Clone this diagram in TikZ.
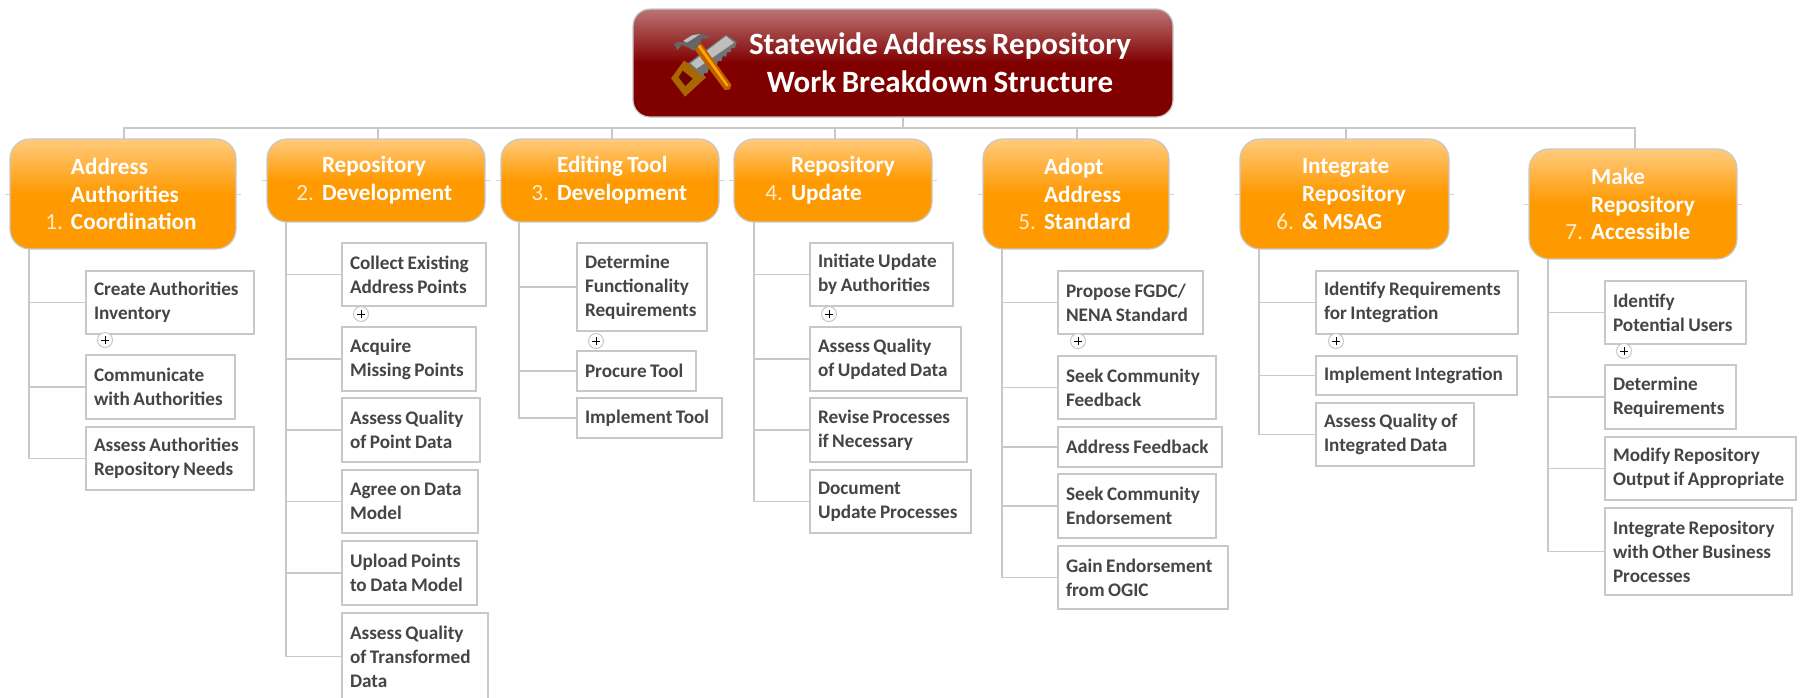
\documentclass[tikz,border=0pt]{standalone}
\usepackage{fontspec}
\setmainfont{Carlito}
\definecolor{linegrey}{HTML}{C8C8C8}
\definecolor{leaftext}{HTML}{454545}
\definecolor{orangetop}{HTML}{FFCB7E}
\definecolor{orangemain}{HTML}{FF9900}
\definecolor{roottop}{HTML}{BC7474}
\definecolor{rootmain}{HTML}{800000}
\definecolor{numcol}{HTML}{FFEBCD}
\newdimen\bodyind
\newcommand{\tightwords}{\setlength{\spaceskip}{0.18em}}
\newcommand{\bl}{\hspace*{\bodyind}}
\newcommand{\num}[1]{\llap{{\mdseries\color{numcol}#1}\hspace{4pt}}}
\newcommand{\leaf}[6]{\node[leafbox,anchor=north west,minimum width={(#4-#2)*0.5pt},text width={(#4-#2-16)*0.5pt},minimum height={(#5-#3)*0.5pt}] (#1) at (#2,-#3) {\tightwords #6};}
\newcommand{\topic}[7]{\pgfmathsetlength\bodyind{#6*0.5pt}\node[topicbox,anchor=north west,minimum width={(#4-#2)*0.5pt},text width={(#4-#2)*0.5pt},minimum height={(#5-#3)*0.5pt}] (#1) at (#2,-#3) {\tightwords #7};}
\tikzset{
  conn/.style={draw=linegrey,line width=0.85pt},
  stub/.style={draw=linegrey!80,line width=0.5pt},
  leafbox/.style={draw=linegrey,line width=0.75pt,fill=white,rectangle,align=left,inner xsep=4pt,inner ysep=0pt,outer sep=0pt,text=leaftext,font=\fontsize{9.6}{12}\selectfont\bfseries},
  topicbox/.style={draw=linegrey,line width=0.6pt,rounded corners=10pt,rectangle,top color=orangetop,bottom color=orangemain,middle color=orangemain,align=left,inner xsep=0pt,inner ysep=0pt,outer sep=0pt,text=white,font=\fontsize{11.6}{13.9}\selectfont\bfseries},
  rootbox/.style={draw=linegrey,line width=0.6pt,rounded corners=8.5pt,rectangle,top color=roottop,bottom color=rootmain,middle color=rootmain,align=center,inner sep=0pt,outer sep=0pt,text=white,font=\fontsize{15.5}{19}\selectfont\bfseries},
  plusc/.style={circle,draw=linegrey,fill=white,line width=0.5pt,minimum size=7.5pt,inner sep=0pt,path picture={\draw[black,line width=0.5pt] (path picture bounding box.center) +(-2pt,0) -- +(2pt,0) +(0,-2pt) -- +(0,2pt);}}
}
\begin{document}
\begin{tikzpicture}[x=0.5pt,y=0.5pt]
\useasboundingbox (0,0) rectangle (1802,-697);
\fill[white] (0,0) rectangle (1802,-697);
% root
\node[rootbox,anchor=north west,minimum width=270pt,text width=270pt,minimum height=54pt] (root) at (633,-9) {\tightwords\hspace*{37pt}Statewide Address Repository\\\hspace*{37pt}Work Breakdown Structure};
% icon
\begin{scope}[shift={(660,-20)},x=0.1667pt,y=-0.1667pt]
  \fill[orange!60!black!85!yellow] (72,122) -- (33,175) -- (75,230) -- (138,172) -- (106,142) -- cycle;
  \fill[rootmain!85!black] (68,152) -- (56,172) -- (76,198) -- (98,176) -- cycle;
  \fill[black!55] (198,44) -- (84,130) -- (128,170) -- (134,158) -- (142,160) -- (146,146) -- (156,148) -- (160,134) -- (170,136) -- (174,122) -- (184,124) -- (188,108) -- (198,110) -- (202,96) -- (212,96) -- (214,84) -- (224,84) -- (230,66) -- cycle;
  \fill[black!25] (198,48) -- (92,130) -- (110,146) -- (222,68) -- cycle;
  \fill[orange!75!black] (102,86) -- (124,70) -- (214,194) -- (210,208) -- (194,210) -- cycle;
  \fill[orange!70!yellow] (112,78) -- (120,74) -- (206,196) -- (200,200) -- cycle;
  \fill[black!60] (42,72) -- (52,66) -- (68,66) -- (92,46) -- (120,40) -- (152,52) -- (126,56) -- (118,74) -- (100,92) -- (84,82) -- (66,74) -- (52,90) -- cycle;
  \fill[black!25] (70,62) -- (96,46) -- (120,42) -- (100,56) -- (80,68) -- cycle;
\end{scope}
% main topics
\topic{n1}{10}{139}{236}{249}{61}{\bl Address\\\bl Authorities\\\bl\num{1.}Coordination}
\topic{n2}{267}{139}{485}{222}{55}{\bl Repository\\\bl\num{2.}Development}
\topic{n3}{501}{139}{719}{222}{56}{\bl Editing Tool\\\bl\num{3.}Development}
\topic{n4}{734}{139}{932}{222}{57}{\bl Repository\\\bl\num{4.}Update}
\topic{n5}{983}{139}{1169}{249}{61}{\bl Adopt\\\bl Address\\\bl\num{5.}Standard}
\topic{n6}{1240}{139}{1449}{249}{62}{\bl Integrate\\\bl Repository\\\bl\num{6.}\& MSAG}
\topic{n7}{1529}{149}{1737}{259}{62}{\bl Make\\\bl Repository\\\bl\num{7.}Accessible}
% branch 1
\leaf{c11}{86}{271}{254}{334}{Create Authorities\\Inventory}
\leaf{c12}{86}{355}{235}{419}{Communicate\\with Authorities}
\leaf{c13}{86}{427}{254}{490}{Assess Authorities\\Repository Needs}
% branch 2
\leaf{c21}{342}{243}{486}{306}{Collect Existing\\Address Points}
\leaf{c22}{342}{327}{476}{391}{Acquire\\Missing Points}
\leaf{c23}{342}{398}{480}{462}{Assess Quality\\of Point Data}
\leaf{c24}{342}{470}{478}{533}{Agree on Data\\Model}
\leaf{c25}{342}{541}{477}{605}{Upload Points\\to Data Model}
\leaf{c26}{342}{613}{488}{700}{Assess Quality\\of Transformed\\Data}
% branch 3
\leaf{c31}{577}{243}{707}{331}{Determine\\Functionality\\Requirements}
\leaf{c32}{577}{351}{696}{391}{Procure Tool}
\leaf{c33}{577}{398}{722}{438}{Implement Tool}
% branch 4
\leaf{c41}{810}{243}{953}{306}{Initiate Update\\by Authorities}
\leaf{c42}{810}{327}{961}{391}{Assess Quality\\\mbox{of Updated Data}}
\leaf{c43}{810}{398}{967}{462}{Revise Processes\\if Necessary}
\leaf{c44}{810}{470}{971}{533}{Document\\\mbox{Update Processes}}
% branch 5
\leaf{c51}{1058}{271}{1203}{334}{Propose FGDC/\\NENA Standard}
\leaf{c52}{1058}{356}{1216}{419}{Seek Community\\Feedback}
\leaf{c53}{1058}{427}{1222}{467}{Address Feedback}
\leaf{c54}{1058}{474}{1216}{538}{Seek Community\\Endorsement}
\leaf{c55}{1058}{546}{1228}{609}{Gain Endorsement\\from OGIC}
% branch 6
\leaf{c61}{1316}{271}{1518}{334}{\mbox{Identify Requirements}\\for Integration}
\leaf{c62}{1316}{356}{1517}{395}{\mbox{Implement Integration}}
\leaf{c63}{1316}{403}{1474}{466}{Assess Quality of\\Integrated Data}
% branch 7
\leaf{c71}{1605}{281}{1746}{344}{Identify\\Potential Users}
\leaf{c72}{1605}{365}{1736}{429}{Determine\\Requirements}
\leaf{c73}{1605}{437}{1796}{500}{Modify Repository\\\mbox{Output if Appropriate}}
\leaf{c74}{1605}{508}{1792}{595}{\mbox{Integrate Repository}\\\mbox{with Other Business}\\Processes}
% expanders
\node[plusc] (p1) at (105,-340) {};
\node[plusc] (p2) at (361,-314) {};
\node[plusc] (p3) at (596,-341) {};
\node[plusc] (p4) at (829,-314) {};
\node[plusc] (p5) at (1078,-341) {};
\node[plusc] (p6) at (1336,-341) {};
\node[plusc] (p7) at (1624,-351) {};
% bus
\coordinate (bus) at (903,-128);
\coordinate (d1) at (124,-139);
\coordinate (d2) at (378,-139);
\coordinate (d3) at (612,-139);
\coordinate (d4) at (835,-139);
\coordinate (d5) at (1077,-139);
\coordinate (d6) at (1346,-139);
\coordinate (d7) at (1635,-149);
\draw[conn] (root.south -| bus) -- (bus);
\draw[conn] (d1) |- (bus) -| (d7);
\foreach \d in {d2,d3,d4,d5,d6} \draw[conn] (\d) -- (\d |- bus);
% trunks
\coordinate (t1) at (29,-249);
\coordinate (t2) at (286,-222);
\coordinate (t3) at (519,-222);
\coordinate (t4) at (754,-222);
\coordinate (t5) at (1002,-249);
\coordinate (t6) at (1259,-249);
\coordinate (t7) at (1548,-259);
\foreach \c in {c11,c12,c13} \draw[conn] (t1) |- (\c.west);
\foreach \c in {c21,c22,c23,c24,c25,c26} \draw[conn] (t2) |- (\c.west);
\foreach \c in {c31,c32,c33} \draw[conn] (t3) |- (\c.west);
\foreach \c in {c41,c42,c43,c44} \draw[conn] (t4) |- (\c.west);
\foreach \c in {c51,c52,c53,c54,c55} \draw[conn] (t5) |- (\c.west);
\foreach \c in {c61,c62,c63} \draw[conn] (t6) |- (\c.west);
\foreach \c in {c71,c72,c73,c74} \draw[conn] (t7) |- (\c.west);
% stubs
\foreach \n in {n1,n2,n3,n4,n5,n6,n7} {
  \draw[stub] (\n.west) -- ++(-2.5pt,0);
  \draw[stub] (\n.east) -- ++(2.5pt,0);
}
\end{tikzpicture}
\end{document}
